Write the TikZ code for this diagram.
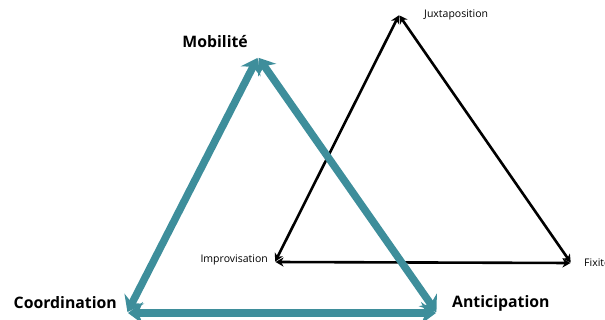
\documentclass[tikz,border=0pt]{standalone}
\usepackage{fontspec}
\setmainfont{Open Sans}
\usepackage{tikz}
\usetikzlibrary{positioning, arrows.meta}
\definecolor{pétrole}{RGB}{62,142,155}

\begin{document}
\begin{tikzpicture}[x=1pt, y=-1pt, node distance=4pt,
    side/.style={pétrole, line width=7.5pt, shorten >=1pt, shorten <=1pt,
        {Stealth[length=15pt, width=22pt, inset=5pt]}-{Stealth[length=15pt, width=22pt, inset=5pt]}},
    thin side/.style={black, line width=2.6pt, shorten >=0.5pt, shorten <=0.5pt,
        {Stealth[length=8pt, width=9pt, inset=2.5pt]}-{Stealth[length=8pt, width=9pt, inset=2.5pt]}},
    big label/.style={font=\bfseries\fontsize{15.8}{18}\selectfont, inner sep=0pt},
    small label/.style={font=\fontsize{10.5}{12}\selectfont, inner sep=0pt}]
    \useasboundingbox (0,0) rectangle (605,320);

    % Define corners
    \coordinate (mob) at (258,57);
    \coordinate (coord) at (127,313);
    \coordinate (antic) at (437,313);
    \coordinate (juxt) at (399,15);
    \coordinate (impro) at (275,262);
    \coordinate (fix) at (571,263);

    % Define labels
    \node[big label, anchor=east] (lmob) at (248,42) {Mobilité};
    \node[big label, anchor=east] (lcoord) at (117,303) {Coordination};
    \node[big label, anchor=west] (lantic) at (452,303) {Anticipation};
    \node[small label, anchor=west] (ljuxt) at (424,15) {Juxtaposition};
    \node[small label, anchor=east] (limpro) at (268,260) {Improvisation};
    \node[small label, anchor=west] (lfix) at (584,263) {Fixité};

    % Define sides
    \draw[thin side] (juxt) -- (impro);
    \draw[thin side] (impro) -- (fix);
    \draw[thin side] (fix) -- (juxt);
    \draw[side] (mob) -- (coord);
    \draw[side] (coord) -- (antic);
    \draw[side] (antic) -- (mob);
\end{tikzpicture}
\end{document}
